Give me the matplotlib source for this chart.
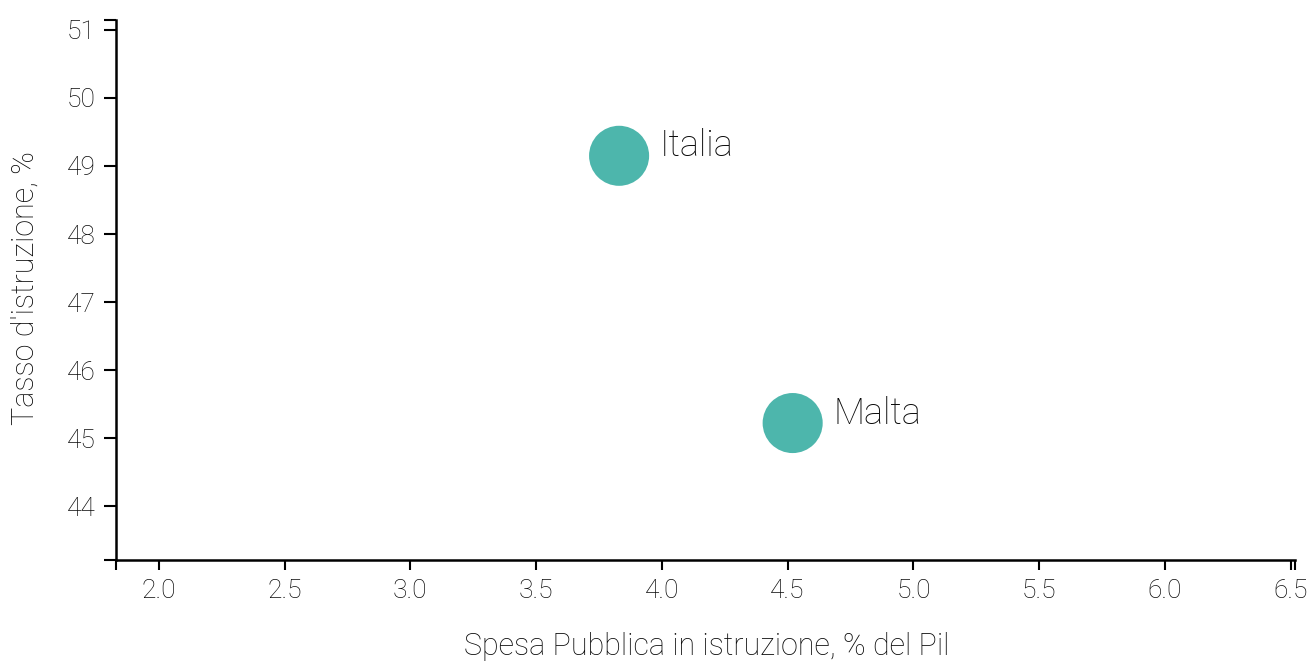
import matplotlib.pyplot as plt

paesi = ['Italia', 'Malta']
spesa = [3.83, 4.52]        # spesa pubblica in istruzione, % del Pil
tasso = [49.15, 45.22]      # tasso d'istruzione, %

xticks = [2.0, 2.5, 3.0, 3.5, 4.0, 4.5, 5.0, 5.5, 6.0, 6.5]
yticks = [44, 45, 46, 47, 48, 49, 50, 51]

plt.rcParams['font.family'] = ['Roboto', 'DejaVu Sans']
plt.rcParams['font.weight'] = 'light'
plt.rcParams['axes.labelweight'] = 'light'
txt = '#0a0a0a'

fig = plt.figure(figsize=(13.14, 6.65), dpi=100)
ax = fig.add_axes([116/1314, 105/665, 1179/1314, 540/665])

ax.scatter(spesa, tasso, s=1870, color='#4db6ac', edgecolors='none', zorder=3)
for p, x, y in zip(paesi, spesa, tasso):
    ax.annotate(p, (x, y), xytext=(29.5, -0.5), textcoords='offset points',
                fontsize=26, color=txt, va='baseline', ha='left')

ax.set_xlim(1.83, 6.517)
ax.set_ylim(43.206, 51.147)
ax.set_xticks(xticks)
ax.set_xticklabels(['%.1f' % v for v in xticks])
ax.set_yticks(yticks)
ax.set_yticklabels([str(v) for v in yticks])
# tacche esterne alle estremità degli assi
ax.set_xticks([1.83, 6.517], minor=True)
ax.set_yticks([43.206, 51.147], minor=True)

for s in ['top', 'right']:
    ax.spines[s].set_visible(False)
for s in ['left', 'bottom']:
    ax.spines[s].set_linewidth(1.8)
    ax.spines[s].set_color('black')

ax.tick_params(axis='y', which='both', length=8.5, width=1.5, pad=6,
               labelsize=19, labelcolor=txt)
ax.tick_params(axis='x', which='both', length=7.5, width=1.5, pad=6,
               labelsize=19, labelcolor=txt)

ax.set_xlabel('Spesa Pubblica in istruzione, % del Pil', fontsize=22, color=txt,
              va='center')
ax.set_ylabel("Tasso d'istruzione, %", fontsize=22, color=txt, va='center')
ax.xaxis.set_label_coords(0.501, -0.161)
ax.yaxis.set_label_coords(-0.0772, 0.504)

fig.savefig('out.png', dpi=100)
